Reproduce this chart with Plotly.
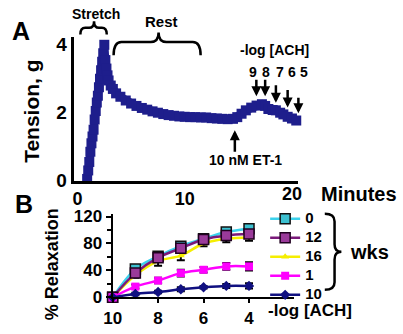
import plotly.graph_objects as go

# ---------------- Panel A data (tension recording) ----------------
time_min = [0.9, 1.0, 1.1, 1.2, 1.3, 1.4, 1.5, 1.6, 1.7, 1.8, 1.9, 2.0, 2.1, 2.2, 2.3, 2.4, 2.5,
            2.6, 2.7, 2.8, 2.9, 3.1, 3.3, 3.6, 4.0, 4.5, 5.0, 5.5, 6.0, 6.5, 7.0, 7.5, 8.0, 8.5,
            9.0, 9.5, 10.0, 10.5, 11.0, 11.5, 12.0, 12.5, 13.0, 13.5, 14.0, 14.5, 14.9, 15.3,
            15.7, 16.2, 16.7, 17.2, 17.5, 17.8, 18.2, 18.5, 18.9, 19.2, 19.6, 20.0, 20.4]
tension_g = [0.05, 0.3, 0.55, 0.85, 1.1, 1.3, 1.5, 1.8, 2.05, 2.3, 2.5, 2.75, 3.0, 3.25, 3.5, 3.75, 4.0,
             3.55, 3.3, 3.1, 2.95, 2.8, 2.7, 2.57, 2.47, 2.36, 2.27, 2.2, 2.14, 2.09, 2.04, 2.0, 1.96, 1.93,
             1.91, 1.89, 1.88, 1.87, 1.87, 1.86, 1.86, 1.84, 1.83, 1.82, 1.81, 1.82, 1.87, 1.97,
             2.07, 2.15, 2.21, 2.25, 2.2, 2.11, 2.08, 2.07, 2.0, 1.95, 1.88, 1.83, 1.77]
a_xticks = [0, 10, 20]
a_yticks = [0, 2, 4]
ach_labels = ["9", "8", "7", "6", "5"]

# ---------------- Panel B data (relaxation) ----------------
neg_log_ach = [10, 9, 8, 7, 6, 5, 4]
wk0 = [0, 42, 61, 76, 87, 97, 102]
wk0_err = [0, 4, 4, 5, 3, 4, 4]
wk12 = [0, 36, 59, 73, 86, 92, 94]
wk12_err = [0, 4, 5, 5, 3, 4, 5]
wk16 = [0, 33, 54, 62, 80, 87, 89]
wk16_err = [0, 4, 7, 7, 4, 5, 5]
wk1 = [0, 16, 25, 36, 41, 46, 46]
wk1_err = [0, 3, 4, 5, 4, 5, 6]
wk10 = [0, 5, 8, 12, 15, 17, 17]
wk10_err = [0, 2, 2, 3, 2, 3, 4]
b_xticks = [10, 8, 6, 4]
b_yticks = [0, 40, 80, 120]

W, H = 403, 334
FONT = "Liberation Sans, Arial, sans-serif"


def px(x):
    return x / W


def py(y):
    return 1 - y / H


fig = go.Figure()

# Panel A trace
fig.add_trace(go.Scatter(
    x=time_min, y=tension_g, mode="lines+markers",
    line=dict(color="#1E1E8C", width=8),
    marker=dict(symbol="square", size=10, color="#1E1E8C"),
    xaxis="x", yaxis="y", showlegend=False, cliponaxis=False, hoverinfo="skip"))


def err(arr):
    return dict(type="data", array=arr, visible=True, color="black", thickness=2, width=4)


series = [
    ("16", wk16, wk16_err, "#F5EE00", dict(symbol="triangle-up", size=7, color="#F5EE00"), 3),
    ("0", wk0, wk0_err, "#3CD2EC", dict(symbol="square", size=10, color="#3CC0D0",
                                        line=dict(color="#101010", width=1.5)), 1),
    ("12", wk12, wk12_err, "#7A1A7A", dict(symbol="square", size=10, color="#9A3A9A",
                                           line=dict(color="#200020", width=1.5)), 2),
    ("1", wk1, wk1_err, "#FF00FF", dict(symbol="square", size=8, color="#FF00FF"), 4),
    ("10", wk10, wk10_err, "#101080", dict(symbol="diamond", size=8, color="#101080"), 5),
]
for name, vals, e, col, mk, rank in series:
    fig.add_trace(go.Scatter(
        x=neg_log_ach, y=vals, error_y=err(e), mode="lines+markers",
        name='<span style="font-size:15px">' + name + '</span>',
        line=dict(color=col, width=2.5, shape="spline"), marker=mk,
        xaxis="x2", yaxis="y2", cliponaxis=False, legendrank=rank, hoverinfo="skip"))

tickfont_ax = dict(family=FONT, size=18, color="black", weight="bold")
tickfont_ay = dict(family=FONT, size=19, color="black", weight="bold")
tickfont_b = dict(family=FONT, size=17, color="black", weight="bold")

fig.update_layout(
    width=W, height=H, autosize=False,
    margin=dict(l=0, r=0, t=0, b=0),
    paper_bgcolor="white", plot_bgcolor="white",
    font=dict(family=FONT, color="black"),
    xaxis=dict(domain=[px(66), px(296)], range=[-0.37, 20.6], anchor="y",
               tickvals=a_xticks, ticktext=["0", "10", ""], showline=True, linewidth=3,
               linecolor="black", ticks="", showgrid=False, zeroline=False,
               tickfont=tickfont_ax),
    yaxis=dict(domain=[py(184), py(33)], range=[0, 4.22], anchor="x",
               tickvals=a_yticks, showline=True, linewidth=3, linecolor="black",
               ticks="", showgrid=False, zeroline=False, tickfont=tickfont_ay),
    xaxis2=dict(domain=[px(106), px(292)], range=[10, 2], anchor="y2",
                tickvals=b_xticks, showline=True, linewidth=2, linecolor="black",
                ticks="outside", ticklen=4, tickwidth=2, tickcolor="black",
                showgrid=False, zeroline=False, tickfont=tickfont_b),
    yaxis2=dict(domain=[py(307), py(219)], range=[0, 124], anchor="x2",
                tickvals=b_yticks, showline=True, linewidth=2, linecolor="black",
                ticks="outside", ticklen=5, tickwidth=2, tickcolor="black",
                minor=dict(tickvals=[20, 60, 100], ticks="outside", ticklen=4,
                           tickwidth=2, tickcolor="black"),
                showgrid=False, zeroline=False, tickfont=tickfont_b),
    legend=dict(x=px(262), y=py(209), xanchor="left", yanchor="top",
                font=dict(family=FONT, size=10, color="black", weight="bold"),
                itemwidth=30, bgcolor="rgba(0,0,0,0)", tracegroupgap=0),
)


def txt(x, y, s, size, angle=0):
    fig.add_annotation(x=px(x), y=py(y), xref="paper", yref="paper", text=s,
                       showarrow=False, textangle=angle, xanchor="center", yanchor="middle",
                       font=dict(family=FONT, size=size, color="black", weight="bold"))


txt(12, 26, "A", 25)
txt(15, 209, "B", 25)
txt(23, 111, "Tension, g", 21, -90)
txt(44, 272, "% Relaxation", 18, -90)
txt(89, 8, "Stretch", 14)
txt(156, 16, "Rest", 15)
txt(272, 46, "-log [ACH]", 14)
for lab, xx in zip(ach_labels, [250, 263, 277, 289, 302]):
    txt(xx, 70, lab, 14)
txt(242, 162, "10 nM ET-1", 14)
txt(289, 198, "20", 18)
txt(358, 198, "Minutes", 20)
txt(308, 321, "-log [ACH]", 17)
txt(369, 259, "wks", 20)


def arrow(x, y_head, dy):
    fig.add_annotation(x=px(x), y=py(y_head), xref="paper", yref="paper", text="",
                       showarrow=True, ax=0, ay=dy, axref="pixel", ayref="pixel",
                       arrowhead=2, arrowsize=0.8, arrowwidth=2.5, arrowcolor="black")


arrow(231, 131, 23)
for xx, yh, yt in [(253, 95, 77), (262, 95, 77), (273, 102, 83), (285, 107, 88), (296, 113, 96)]:
    arrow(xx, yh, yt - yh)


def P(x, y):
    return f"{px(x):.5f},{py(y):.5f}"


def hbrace(x1, x2, xm, y_end, y_flat, y_tip, r=6):
    return (f"M {P(x1, y_end)} Q {P(x1, y_flat)} {P(x1 + r, y_flat)} "
            f"L {P(xm - r, y_flat)} Q {P(xm, y_flat)} {P(xm, y_tip)} "
            f"Q {P(xm, y_flat)} {P(xm + r, y_flat)} L {P(x2 - r, y_flat)} "
            f"Q {P(x2, y_flat)} {P(x2, y_end)}")


def vbrace(x_end, x_flat, x_tip, y1, y2, ym, r=7):
    return (f"M {P(x_end, y1)} Q {P(x_flat, y1)} {P(x_flat, y1 + r)} "
            f"L {P(x_flat, ym - r)} Q {P(x_flat, ym)} {P(x_tip, ym)} "
            f"Q {P(x_flat, ym)} {P(x_flat, ym + r)} L {P(x_flat, y2 - r)} "
            f"Q {P(x_flat, y2)} {P(x_end, y2)}")


for path in [hbrace(73, 100, 87, 30, 23, 16, 5), hbrace(107, 196, 153, 52, 38, 28, 8),
             vbrace(323, 333, 340, 219, 299, 259, 8)]:
    fig.add_shape(type="path", path=path, xref="paper", yref="paper",
                  line=dict(color="black", width=2.5))

fig.write_html("out.html", config={"displayModeBar": False},
               post_script="document.body.style.margin='0px';document.body.style.overflow='hidden';")
